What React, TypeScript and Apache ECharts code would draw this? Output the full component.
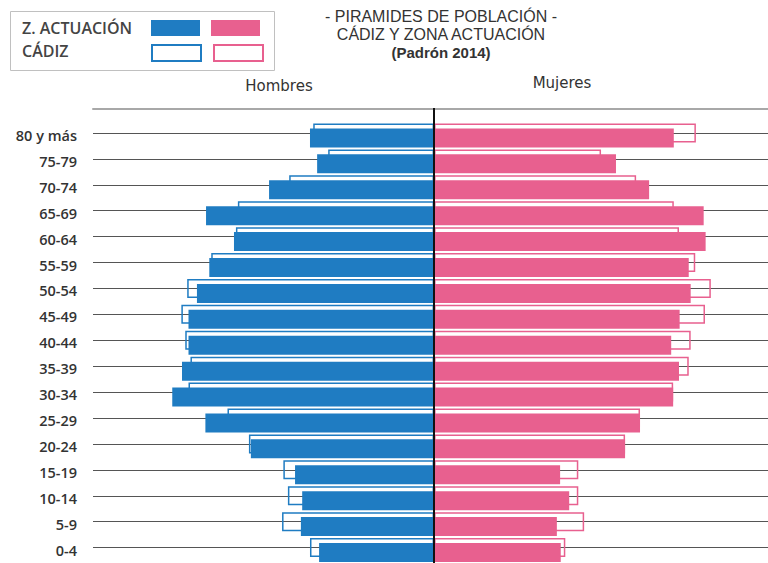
import React, { useEffect, useRef } from "react";
import * as echarts from "echarts";

const categories = ["80 y más", "75-79", "70-74", "65-69", "60-64", "55-59", "50-54", "45-49", "40-44", "35-39", "30-34", "25-29", "20-24", "15-19", "10-14", "5-9", "0-4"];
// % of population
const hombresZona = [1.91, 1.8, 2.54, 3.51, 3.08, 3.46, 3.65, 3.78, 3.78, 3.88, 4.03, 3.52, 2.82, 2.14, 2.03, 2.05, 1.77];
const hombresCadiz = [1.86, 1.63, 2.23, 3.02, 3.05, 3.43, 3.8, 3.89, 3.83, 3.75, 3.78, 3.18, 2.85, 2.32, 2.25, 2.34, 1.91];
const mujeresZona = [3.69, 2.8, 3.31, 4.15, 4.18, 3.92, 3.95, 3.78, 3.65, 3.77, 3.68, 3.17, 2.94, 1.94, 2.08, 1.89, 1.95];
const mujeresCadiz = [4.03, 2.57, 3.11, 3.69, 3.77, 4.02, 4.26, 4.17, 3.95, 3.92, 3.68, 3.17, 2.94, 2.22, 2.22, 2.31, 2.02];

const BLUE = "#1f7cc2";
const PINK = "#e8608f";

export default function App() {
  const ref = useRef<HTMLDivElement>(null);
  useEffect(() => {
    if (!ref.current) return;
    const chart = echarts.init(ref.current, undefined, { renderer: "svg" });
    const barW = 19;
    const barGap = "-74%";
    const legendCommon = {
      left: 151, itemWidth: 49, itemHeight: 16, itemGap: 11, icon: "rect",
      formatter: () => "", padding: 0, selectedMode: false,
    };
    chart.setOption({
      animation: false,
      backgroundColor: "#fff",
      title: {
        text: "- PIRAMIDES DE POBLACIÓN -\nCÁDIZ Y ZONA ACTUACIÓN",
        subtext: "(Padrón 2014)",
        left: 441,
        textAlign: "center",
        top: 7,
        itemGap: 1,
        padding: 0,
        textStyle: { fontFamily: "Liberation Sans", fontSize: 16, fontWeight: "normal", color: "#333", lineHeight: 18 },
        subtextStyle: { fontFamily: "Liberation Sans", fontSize: 15, fontWeight: "bold", color: "#333", lineHeight: 16 },
      },
      legend: [
        { ...legendCommon, data: ["Z. Actuación Hombres", "Z. Actuación Mujeres"], top: 20 },
        { ...legendCommon, data: ["Cádiz Hombres", "Cádiz Mujeres"], top: 44 },
      ],
      grid: { left: 93, right: 0, top: 122.5, bottom: -3.5 },
      xAxis: {
        type: "value", min: -5.25, max: 5.14, position: "top", offset: 14,
        axisLine: { show: true, lineStyle: { color: "#a8a8a8", width: 2 } },
        axisTick: { show: false }, axisLabel: { show: false }, splitLine: { show: false },
      },
      yAxis: {
        type: "category", data: categories, inverse: true,
        axisLine: { show: false },
        axisTick: { show: false },
        axisLabel: { margin: 16, color: "#333", fontSize: 14.5, fontWeight: 600, fontFamily: "Open Sans" },
      },
      graphic: [
        { type: "rect", shape: { x: 10.5, y: 11.5, width: 264, height: 59 }, style: { fill: "none", stroke: "#c0c0c0", lineWidth: 1 } },
        { type: "text", x: 22, y: 28, style: { text: "Z. ACTUACIÓN", fill: "#444", font: "600 16px 'Open Sans'", textVerticalAlign: "middle" } },
        { type: "text", x: 22, y: 51, style: { text: "CÁDIZ", fill: "#444", font: "600 16px 'Open Sans'", textVerticalAlign: "middle" } },
        { type: "text", x: 279, y: 86, style: { text: "Hombres", fill: "#333", font: "15px 'DejaVu Sans'", textAlign: "center", textVerticalAlign: "middle" } },
        { type: "text", x: 562, y: 83, style: { text: "Mujeres", fill: "#333", font: "15px 'DejaVu Sans'", textAlign: "center", textVerticalAlign: "middle" } },
        { type: "line", shape: { x1: 434, y1: 108, x2: 434, y2: 123 }, style: { stroke: "#111", lineWidth: 2 }, z: 100 },
      ],
      series: [
        {
          name: "Cádiz Hombres", type: "bar", stack: "cadiz", barWidth: barW, barGap,
          data: hombresCadiz.map((v) => -v),
          itemStyle: { color: "rgba(255,255,255,0)", borderColor: BLUE, borderWidth: 1.5 },
          markLine: {
            silent: true, symbol: "none", z: 1, label: { show: false },
            lineStyle: { color: "#555", width: 1, type: "solid" },
            data: categories.map((c) => ({ yAxis: c })),
          },
        },
        {
          name: "Cádiz Mujeres", type: "bar", stack: "cadiz", barWidth: barW, barGap,
          data: mujeresCadiz,
          itemStyle: { color: "rgba(255,255,255,0)", borderColor: PINK, borderWidth: 1.5 },
        },
        {
          name: "Z. Actuación Hombres", type: "bar", stack: "zona", barWidth: barW, barGap,
          data: hombresZona.map((v) => -v),
          itemStyle: { color: BLUE },
        },
        {
          name: "Z. Actuación Mujeres", type: "bar", stack: "zona", barWidth: barW, barGap,
          data: mujeresZona,
          itemStyle: { color: PINK },
          markLine: {
            silent: true, symbol: "none", label: { show: false },
            lineStyle: { color: "#111", width: 2, type: "solid" },
            data: [{ xAxis: 0 }],
          },
        },
      ],
    });
    return () => chart.dispose();
  }, []);
  return <div ref={ref} style={{ position: "fixed", left: 0, top: 0, width: 768, height: 563 }} />;
}
